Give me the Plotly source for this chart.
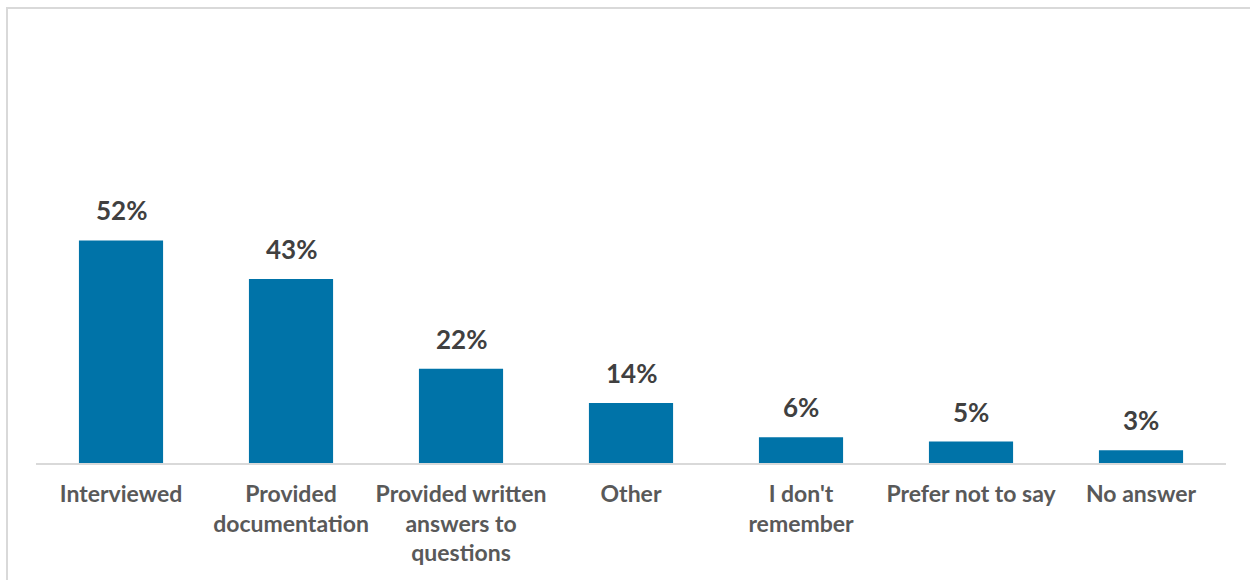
import plotly.graph_objects as go

# Survey responses: share of respondents by action taken
categories = [
    "Interviewed",
    "Provided<br>documentation",
    "Provided written<br>answers to<br>questions",
    "Other",
    "I don't<br>remember",
    "Prefer not to say",
    "No answer",
]
values = [52, 43, 22, 14, 6, 5, 3]
value_labels = [f"{v}%" for v in values]

W, H = 1250, 580
LEFT, RIGHT = 36, 24
TOP, BOTTOM = 20, 117
px_per_unit = 4.28
y_max = (H - TOP - BOTTOM) / px_per_unit

BAR_COLOR = "#0073A8"
FONT = "Lato"

fig = go.Figure()
fig.add_trace(go.Bar(
    x=categories,
    y=values,
    marker=dict(color=BAR_COLOR, line=dict(width=0)),
    width=0.495,
    hoverinfo="skip",
))

# value labels above each bar
for c, v, t in zip(categories, values, value_labels):
    fig.add_annotation(
        x=c, y=v, text=t, showarrow=False,
        yanchor="bottom", yshift=12,
        font=dict(family=FONT, size=26, color="#404040", weight="bold"),
    )

# chart frame (only top and left edges fall inside the page)
plot_w = W - LEFT - RIGHT
plot_h = H - TOP - BOTTOM
fig.add_shape(
    type="rect", xref="paper", yref="paper",
    x0=(7 - LEFT) / plot_w, x1=(W + 20 - LEFT) / plot_w,
    y0=-(BOTTOM + 20) / plot_h, y1=(H - BOTTOM - 8) / plot_h,
    line=dict(color="#D9D9D9", width=2), fillcolor="rgba(0,0,0,0)",
    layer="below",
)

fig.update_layout(
    width=W, height=H,
    margin=dict(l=LEFT, r=RIGHT, t=TOP, b=BOTTOM, autoexpand=False),
    paper_bgcolor="white", plot_bgcolor="white",
    showlegend=False,
    xaxis=dict(
        showline=True, linecolor="#D9D9D9", linewidth=2,
        showgrid=False, ticks="", zeroline=False,
        tickfont=dict(family=FONT, size=23, color="#595959", weight="bold"),
        ticklabelstandoff=9,
        fixedrange=True,
    ),
    yaxis=dict(
        range=[0, y_max], visible=False, showgrid=False, zeroline=False,
        fixedrange=True,
    ),
)

fig.write_html("out.html")
